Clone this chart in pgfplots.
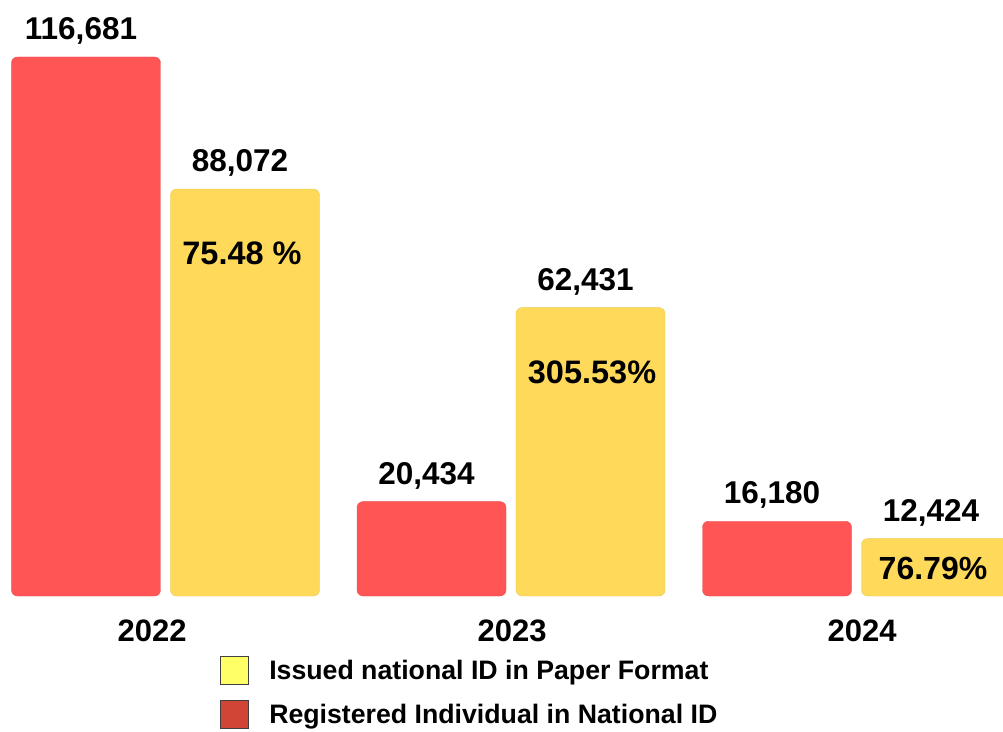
\documentclass[border=0pt]{standalone}
\usepackage{fontspec}
\setmainfont{Liberation Sans}
\usepackage{pgfplots}
\usepackage{pgfplotstable}
\pgfplotsset{compat=1.18}
\definecolor{barred}{HTML}{FF5555}
\definecolor{baryel}{HTML}{FFDA5A}
\definecolor{legyel}{HTML}{FFFF66}
\definecolor{legred}{HTML}{D04535}
\pgfplotstableread{
x y label
0 116681 116,681
1 20434 20,434
2 16180 16,180
}\registered
\pgfplotstableread{
x y label
0 88072 88,072
1 62431 62,431
2 12424 12,424
}\issued
\begin{document}
\begin{tikzpicture}
\begin{axis}[
  scale only axis,
  width=1003pt, height=731pt,
  xmin=-0.479, xmax=2.424,
  ymin=-29224, ymax=129018,
  hide axis, clip=true,
  ybar, bar width=149pt,
  point meta=explicit symbolic,
  nodes near coords,
  nodes near coords style={font=\fontsize{31.5}{37}\selectfont\bfseries, anchor=south, yshift=9pt, xshift=-5pt},
  legend style={draw=none, fill=none, at={(0.219,0.103)}, anchor=north west,
    font=\fontsize{26.7}{31}\selectfont\bfseries, row sep=15pt, inner sep=0pt,
    cells={anchor=west}, nodes={inner sep=0pt}},
  legend image code/.code={\draw[#1, draw=black!75, line width=0.8pt] (0pt,-14pt) rectangle (28pt,14pt); \path[draw=none, fill=none] (0pt,-1pt) rectangle (49pt,1pt);},
]
\addplot[fill=barred, draw=barred!90!black, rounded corners=6pt, bar shift=-79.5pt, forget plot] table[x=x, y=y, meta=label] {\registered};
\addplot[fill=baryel, draw=baryel!92!black, rounded corners=6pt, bar shift=79.5pt, forget plot] table[x=x, y=y, meta=label] {\issued};
\addlegendimage{fill=legyel}
\addlegendentry{Issued national ID in Paper Format}
\addlegendimage{fill=legred}
\addlegendentry{Registered Individual in National ID}
\node[font=\fontsize{32.5}{38}\selectfont\bfseries] at (axis cs:0.2214,74250) {75.48 \%};
\node[font=\fontsize{32.5}{38}\selectfont\bfseries] at (axis cs:1.2345,48490) {305.53\%};
\node[font=\fontsize{32}{38}\selectfont\bfseries] at (axis cs:2.2214,6061) {76.79\%};
\node[font=\fontsize{31}{37}\selectfont\bfseries] at (axis cs:-0.039,-7577) {2022};
\node[font=\fontsize{31}{37}\selectfont\bfseries] at (axis cs:1.003,-7577) {2023};
\node[font=\fontsize{31}{37}\selectfont\bfseries] at (axis cs:2.016,-7577) {2024};
\end{axis}
\pgfresetboundingbox
\useasboundingbox (current axis.south west) rectangle (current axis.north east);
\end{tikzpicture}
\end{document}
